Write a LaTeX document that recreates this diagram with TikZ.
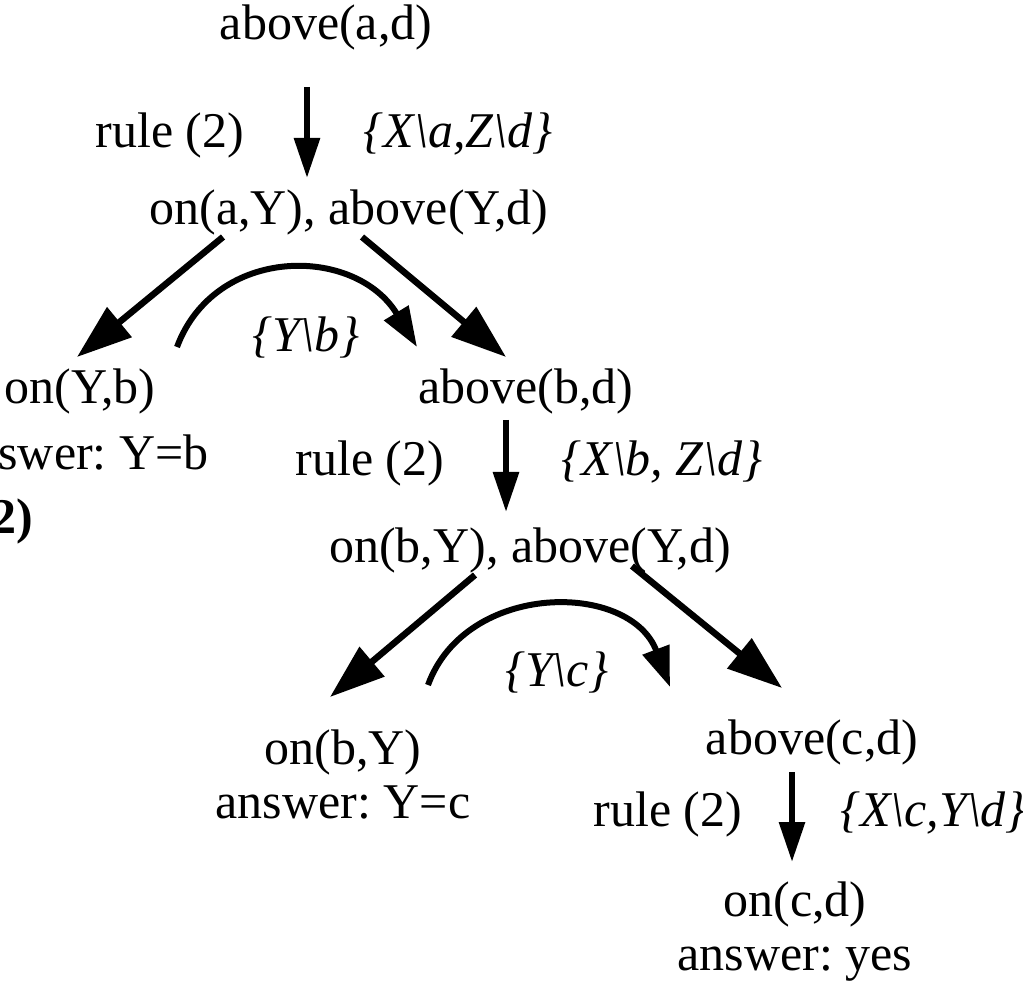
\documentclass[tikz,border=0pt]{standalone}
\usepackage{fontspec}
\setmainfont{Liberation Serif}
\usetikzlibrary{arrows.meta}
\frenchspacing

\begin{document}
\begin{tikzpicture}[x=0.2pt,y=-0.2pt,
   txt/.style={anchor=base,inner sep=0pt,font=\fontsize{10}{10.8}\selectfont},
   subst/.style={txt,font=\fontsize{10}{10.8}\selectfont\itshape},
   goal/.style={txt,align=center},
   res/.style={line width=1.2pt,-{Triangle[length=8pt,width=5pt]}},
   split/.style={line width=1.3pt,-{Triangle[length=11pt,width=7.5pt]}},
   back/.style={line width=1.2pt,-{Triangle[length=8pt,width=5.5pt]}}]
\useasboundingbox (0,0) rectangle (1023,982);
\clip (0,0) rectangle (1023,982);
% goals (base of a two-line goal = its last line)
\node[txt] (g0) at (326,40) {above(a,d)};
\node[txt] (g1) at (349,225) {on(a,Y), above(Y,d)};
\node[goal] (g2) at (80,470) {on(Y,b)\\[2.4pt]answer: Y=b};
\node[txt] (g3) at (526,404) {above(b,d)};
\node[txt] (g4) at (530,562) {on(b,Y), above(Y,d)};
\node[goal] (g5) at (343,818) {on(b,Y)\\answer: Y=c};
\node[txt] (g6) at (812,754) {above(c,d)};
\node[goal] (g7) at (795,970) {on(c,d)\\answer: yes};
\node[txt,font=\fontsize{10}{10.8}\selectfont\bfseries] (lab) at (4,534) {(2)};
% rules and substitutions
\node[txt] (r0) at (170,148) {rule (2)};
\node[subst] (s0) at (458,148) {\{X\textbackslash a,Z\textbackslash d\}};
\node[txt] (r1) at (370,476) {rule (2)};
\node[subst] (s1) at (662,476) {\{X\textbackslash b, Z\textbackslash d\}};
\node[txt] (r2) at (668,826) {rule (2)};
\node[subst] (s2) at (933,826) {\{X\textbackslash c,Y\textbackslash d\}};
\node[subst] (u0) at (306,352) {\{Y\textbackslash b\}};
\node[subst] (u1) at (557,686) {\{Y\textbackslash c\}};
% arrow ends
\coordinate (a0) at (307,87);  \coordinate (b0) at (307,178);
\coordinate (a1) at (506,420); \coordinate (b1) at (506,512);
\coordinate (a2) at (792,772); \coordinate (b2) at (792,862);
\coordinate (l0) at (223,237); \coordinate (m0) at (77,357);
\coordinate (l1) at (362,237); \coordinate (m1) at (506,357);
\coordinate (l2) at (475,575); \coordinate (m2) at (330,697);
\coordinate (l3) at (632,566); \coordinate (m3) at (782,688);
\coordinate (c0) at (177,347); \coordinate (d0) at (417,347);
\coordinate (c1) at (428,685); \coordinate (d1) at (670,687);
\foreach \a/\b in {a0/b0,a1/b1,a2/b2} {
   \draw[res] (\a) -- (\b);
}
\foreach \a/\b in {l0/m0,l1/m1,l2/m2,l3/m3} {
   \draw[split] (\a) -- (\b);
}
\draw[back] (c0) .. controls (215,245) and (355,245) .. (d0);
\draw[back] (c1) .. controls (466,581) and (630,581) .. (d1);
\end{tikzpicture}
\end{document}
